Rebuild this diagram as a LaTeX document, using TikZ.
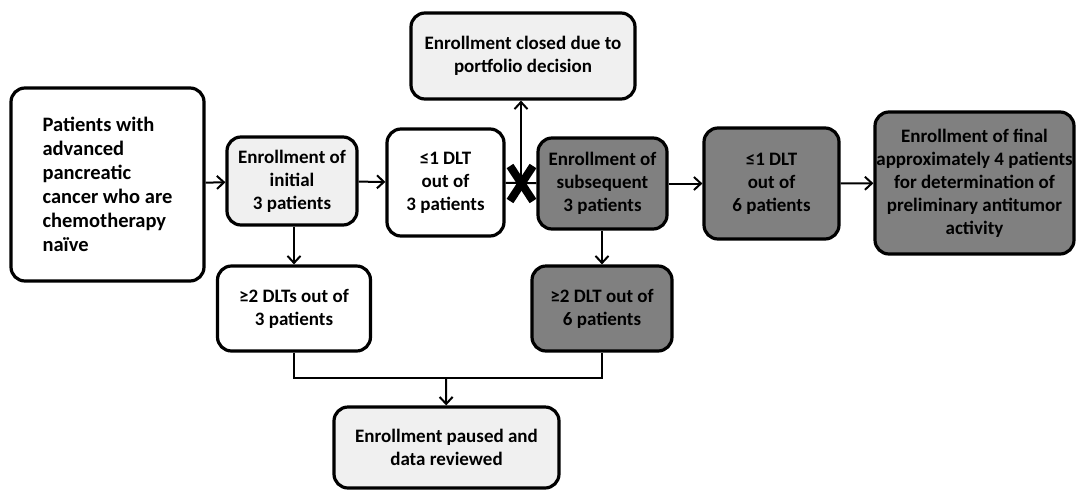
\documentclass[tikz,border=0pt]{standalone}
\usepackage{fontspec}
\setmainfont{Carlito}
\usetikzlibrary{arrows.meta,calc}

\definecolor{lightbox}{HTML}{F0F0F0}
\definecolor{darkbox}{HTML}{808080}

\begin{document}
\begin{tikzpicture}[x=1pt, y=-1pt,
    box/.style={draw, line width=3.2pt, rounded corners=14pt, align=center,
      inner sep=1pt, font=\bfseries\fontsize{19}{23}\selectfont},
    flow/.style={line width=2pt, -{Straight Barb[length=7pt, width=13pt]}}]
  \useasboundingbox (0,0) rectangle (1078,491);

  \node[box, minimum width=193pt, minimum height=193pt, align=left,
    font=\bfseries\fontsize{20.5}{24}\selectfont]
    (patients) at (107.5,184.5) {Patients with\\advanced\\pancreatic\\cancer who are\\chemotherapy\\na\"ive};
  \node[box, fill=lightbox, minimum width=130pt, minimum height=88pt]
    (initial) at (292,181) {Enrollment of\\initial\\3 patients};
  \node[box, minimum width=117pt, minimum height=107pt]
    (lowthree) at (445.5,182.5) {≤1 DLT\\out of\\3 patients};
  \node[box, fill=lightbox, minimum width=224pt, minimum height=86pt]
    (closed) at (523,56) {Enrollment closed due to\\portfolio decision};
  \node[box, fill=darkbox, minimum width=129pt, minimum height=91pt]
    (subseq) at (602.5,183.5) {Enrollment of\\subsequent\\3 patients};
  \node[box, fill=darkbox, minimum width=135pt, minimum height=111pt]
    (lowsix) at (771.5,183.5) {≤1 DLT\\out of\\6 patients};
  \node[box, fill=darkbox, minimum width=199pt, minimum height=142pt]
    (final) at (974.5,183) {Enrollment of final\\approximately 4 patients\\for determination of\\preliminary antitumor\\activity};
  \node[box, minimum width=153pt, minimum height=85pt]
    (highthree) at (294,308.5) {≥2 DLTs out of\\3 patients};
  \node[box, fill=darkbox, minimum width=140pt, minimum height=85pt]
    (highsix) at (602,308.5) {≥2 DLT out of\\6 patients};
  \node[box, fill=lightbox, minimum width=225pt, minimum height=81pt]
    (paused) at (446.5,447.5) {Enrollment paused and\\data reviewed};

  \coordinate (cut) at ($(lowthree.east)!0.5!(subseq.west)$);
  \coordinate (merge) at (446,378);

  \draw[flow] (patients) -- (initial);
  \draw[flow] (initial) -- (lowthree);
  \draw[line width=2pt] (lowthree) -- (subseq);
  \draw[flow] (cut) -- (cut |- closed.south);
  \draw[flow] (subseq) -- (lowsix);
  \draw[flow] (lowsix) -- (final);
  \draw[flow] (initial.south -| highthree.north) -- (highthree.north);
  \draw[flow] (subseq.south -| highsix.north) -- (highsix.north);
  \draw[line width=2pt] (highthree.south) |- (merge) -| (highsix.south);
  \draw[flow] (merge) -- (paused);

  % the cross on the path to the next cohort
  \draw[line width=8pt] (cut) ++(-11,-17) -- ++(23,35);
  \draw[line width=8pt] (cut) ++(12,-17) -- ++(-23,35);
\end{tikzpicture}
\end{document}
